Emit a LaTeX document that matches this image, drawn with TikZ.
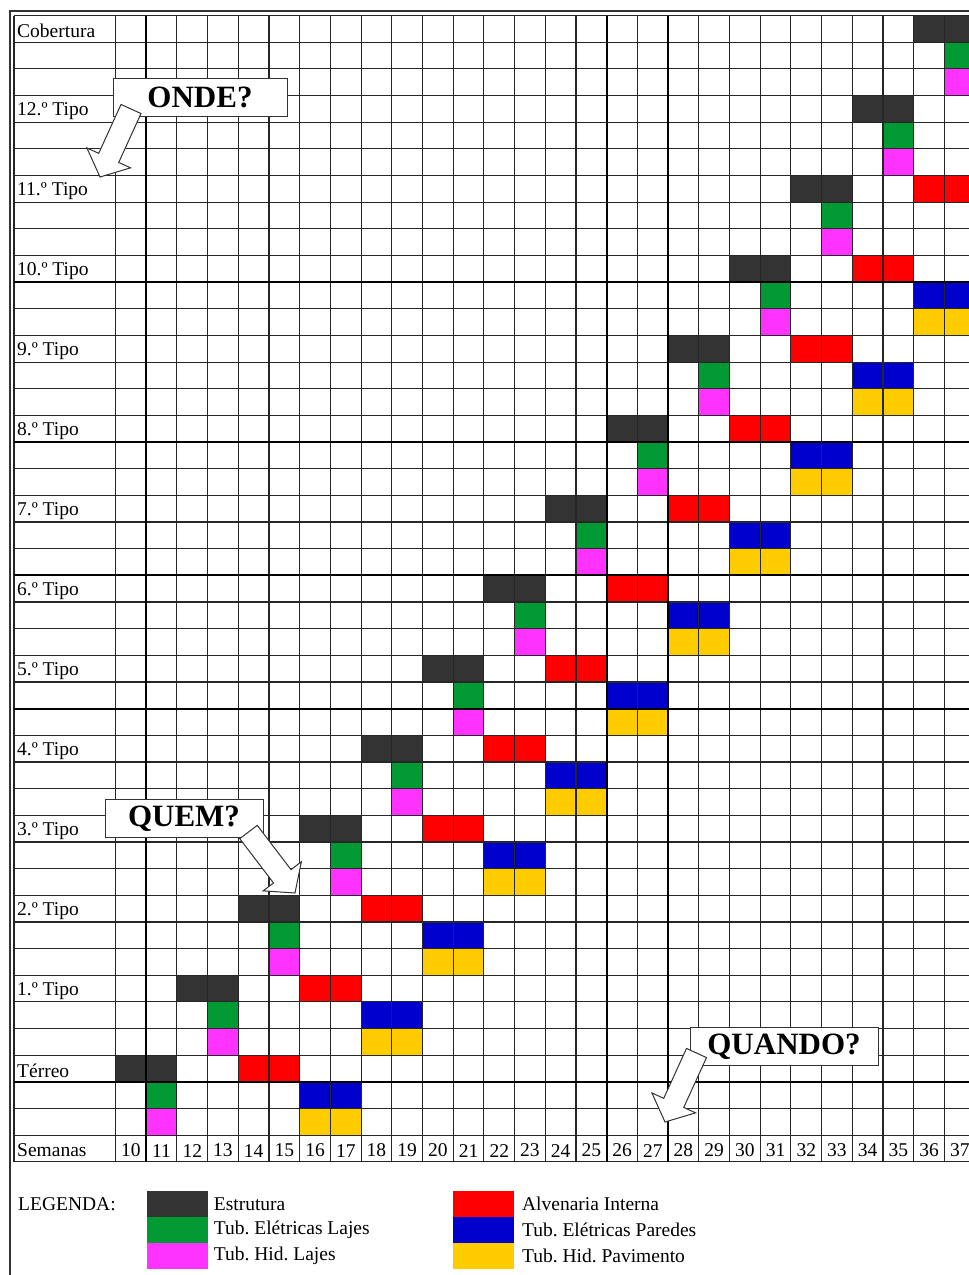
\documentclass[tikz,border=0pt]{standalone}
\usepackage{fontspec}
\setmainfont{Liberation Serif}
\usepackage{xcolor}
\usetikzlibrary{calc,positioning}
\frenchspacing

\definecolor{estr}{HTML}{333333}
\definecolor{elaj}{HTML}{009933}
\definecolor{hlaj}{HTML}{FF33FF}
\definecolor{alv}{HTML}{FF0000}
\definecolor{epar}{HTML}{0000CC}
\definecolor{hpav}{HTML}{FFCC00}

% celula: semana, linha, cor
\newcommand{\cel}[3]{\fill[#3] ({115.5+(#1-10)*30.7},{15.5+(#2)*26.66}) rectangle ++(30.7,26.66);}
% seta larga de #1 ate #2
\newcommand{\seta}[2]{\draw[setab] let \p1=($(#2)-(#1)$), \n1={atan2(\y1,\x1)}, \n2={veclen(\x1,\y1)} in
  [shift={(#1)},rotate=\n1] (0,-11) -- ({\n2-21},-11) -- ({\n2-21},-24) -- (\n2,0)
  -- ({\n2-21},24) -- ({\n2-21},11) -- (0,11) -- cycle;}

\begin{document}
\begin{tikzpicture}[x=1pt,y=-1pt,
  font=\fontsize{19.5}{20}\selectfont,
  grade/.style={black!85,line width=1.1pt},
  grossa/.style={black,line width=2pt},
  txt/.style={inner sep=0pt,anchor=west},
  num/.style={inner sep=0pt},
  balao/.style={draw=black!80,fill=white,line width=1pt,minimum height=38pt,font=\fontsize{31}{31}\selectfont\bfseries},
  setab/.style={draw=black!80,fill=white,line width=1pt,line join=miter},
  amostra/.style={minimum width=61pt,minimum height=26.2pt,inner sep=0pt}]
\useasboundingbox (0,0) rectangle (969,1275);
\clip (0,0) rectangle (969,1275);
\fill[white] (0,0) rectangle (969,1275);

% tarefas por pavimento
\foreach \k in {0,...,13}{
  \pgfmathtruncatemacro\r{39-3*\k}
  \pgfmathtruncatemacro\a{10+2*\k}
  \cel{\a}{\r}{estr} \cel{\a+1}{\r}{estr}
  \cel{\a+1}{\r+1}{elaj} \cel{\a+1}{\r+2}{hlaj}
  \cel{\a+4}{\r}{alv} \cel{\a+5}{\r}{alv}
  \cel{\a+6}{\r+1}{epar} \cel{\a+7}{\r+1}{epar}
  \cel{\a+6}{\r+2}{hpav} \cel{\a+7}{\r+2}{hpav}
}

% grade
\foreach \r in {0,...,43}
  \draw[grade] (14,{15.5+\r*26.66}) -- (975,{15.5+\r*26.66});
\draw[grade] (14,15.5) -- (14,1162.4);
\foreach \j in {0,...,28}
  \draw[grade] ({115.5+\j*30.7},15.5) -- ++(0,1146.9);
\foreach \r in {10,16,21,26,40}
  \draw[grossa] (14,{15.5+\r*26.66}) -- (975,{15.5+\r*26.66});
\foreach \j in {1,16,18}
  \draw[grossa] ({115.5+\j*30.7},15.5) -- ++(0,1146.9);
\draw[black!80,line width=2.6pt] (10,1275) -- (10,11) -- (969,11);

% pavimentos e semanas
\foreach \t [count=\i from 0] in {Cobertura,12.º Tipo,11.º Tipo,10.º Tipo,9.º Tipo,8.º Tipo,7.º Tipo,6.º Tipo,5.º Tipo,4.º Tipo,3.º Tipo,2.º Tipo,1.º Tipo,Térreo,Semanas}
  \node[txt] (pav\i) at (17,{17.5+(3*\i+0.5)*26.66}) {\t};
\foreach \w in {10,...,37}
  \node[num] (sem\w) at ({115.5+(\w-9.5)*30.7},{17.5+42.5*26.66}) {\w};

% perguntas
\node[balao,minimum width=174pt] (onde) at (200,97.5) {ONDE?};
\node[balao,minimum width=158pt] (quem) at (184,818.5) {QUEM?};
\node[balao,minimum width=188pt] (quando) at (784,1046.5) {QUANDO?};
\coordinate (ondeT) at ([shift={(18.5,-8)}]onde.south west);
\coordinate (ondeP) at (100,177);
\coordinate (quemT) at ([shift={(-15,-6)}]quem.south east);
\coordinate (quemP) at (295,893);
\coordinate (quandoT) at ([shift={(7,6.5)}]quando.west);
\coordinate (quandoP) at (665,1122);
\seta{ondeT}{ondeP}
\seta{quemT}{quemP}
\seta{quandoT}{quandoP}

% legenda
\node[txt] (leg) at (18,1204) {LEGENDA:};
\foreach \c/\t [count=\i] in {estr/Estrutura,elaj/Tub. Elétricas Lajes,hlaj/Tub. Hid. Lajes}{
  \node[amostra,fill=\c] (amA\i) at (177,{1190.7+(\i-0.5)*26.2}) {};
  \node[txt,right=6pt of amA\i] (legA\i) {\t};
}
\foreach \c/\t [count=\i] in {alv/Alvenaria Interna,epar/Tub. Elétricas Paredes,hpav/Tub. Hid. Pavimento}{
  \node[amostra,fill=\c] (amB\i) at (483.2,{1190.7+(\i-0.5)*26.2}) {};
  \node[txt,right=8pt of amB\i] (legB\i) {\t};
}
\end{tikzpicture}
\end{document}
